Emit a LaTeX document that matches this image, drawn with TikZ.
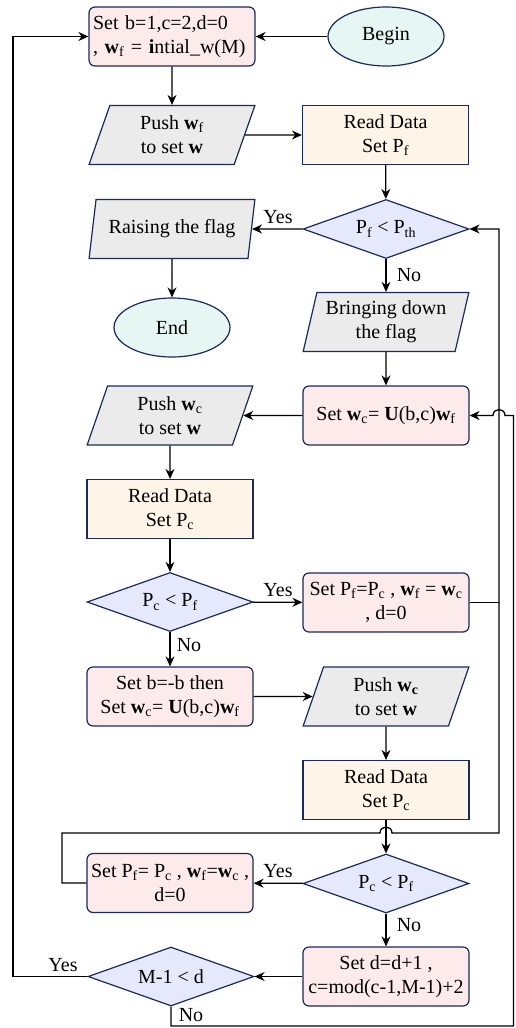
\documentclass[tikz,border=0pt]{standalone}
\usepackage{fontspec}
\setmainfont{Liberation Serif}
\usetikzlibrary{shapes.geometric,arrows.meta}
\definecolor{bord}{HTML}{1B2A5A}
\definecolor{pinkf}{HTML}{FDEBEB}
\definecolor{orangef}{HTML}{FEF4E8}
\definecolor{grayf}{HTML}{EBEBEB}
\definecolor{lavf}{HTML}{E5E9FB}
\definecolor{cyanf}{HTML}{E6F6F3}
\newcommand{\bw}[1]{\textbf{w}\textsubscript{#1}}
\begin{document}
\begin{tikzpicture}[x=1pt,y=-1pt,
 every node/.style={font=\fontsize{20}{24}\selectfont, line width=1.2pt, draw=bord, align=center, inner sep=2pt},
 procbox/.style={rectangle, rounded corners=6pt, fill=pinkf, minimum width=166pt, minimum height=59pt},
 databox/.style={rectangle, fill=orangef, minimum width=166pt, minimum height=59pt},
 iobox/.style={trapezium, trapezium left angle=75, trapezium right angle=105, trapezium stretches=true, fill=grayf, minimum width=166pt, minimum height=59pt},
 decbox/.style={diamond, aspect=2.8, fill=lavf, minimum width=166pt, minimum height=59pt, inner sep=0pt},
 termbox/.style={ellipse, fill=cyanf, minimum width=116pt, minimum height=59pt},
 lbl/.style={draw=none, fill=none, inner sep=0pt},
 conn/.style={line width=1.3pt, draw=black},
 arr/.style={conn, -{Stealth[length=10pt,width=9pt]}}
]
\useasboundingbox (0,0) rectangle (515,1028);

% nodes
\node[procbox, text width=158pt, align=left] (init) at (172,36.5) {Set b=1,c=2,d=0\\, \bw{f} = \textbf{i}ntial\_w(M)};
\node[termbox] (begin) at (386,36.5) {Begin};
\node[iobox] (pushf) at (172,135) {Push \bw{f}\\to set \textbf{w}};
\node[databox] (readf) at (385.5,135) {Read Data\\Set P\textsubscript{f}};
\node[decbox] (decth) at (386,229) {P\textsubscript{f} < P\textsubscript{th}};
\node[iobox] (raise) at (172,229) {Raising the flag};
\node[termbox] (theend) at (172,327.5) {End};
\node[iobox] (bring) at (386,322) {Bringing down\\the flag};
\node[procbox] (setwc) at (386,415.5) {Set \bw{c}= \textbf{U}(b,c)\bw{f}};
\node[iobox] (pushc) at (170,415.5) {Push \bw{c}\\to set \textbf{w}};
\node[databox] (readc) at (170,509) {Read Data\\Set P\textsubscript{c}};
\node[decbox] (deca) at (170,602) {P\textsubscript{c} < P\textsubscript{f}};
\node[procbox] (setpfa) at (386,602.5) {Set P\textsubscript{f}=P\textsubscript{c} , \bw{f} = \bw{c}\\, d=0};
\node[procbox] (setb) at (170,696.5) {Set b=-b then\\Set \bw{c}= \textbf{U}(b,c)\bw{f}};
\node[iobox] (pushc2) at (386,696.5) {Push \textbf{w}\textsubscript{\textbf{c}}\\to set \textbf{w}};
\node[databox] (readc2) at (386,790) {Read Data\\Set P\textsubscript{c}};
\node[decbox] (decb) at (386,883.5) {P\textsubscript{c} < P\textsubscript{f}};
\node[procbox] (setpfb) at (170,883) {Set P\textsubscript{f}= P\textsubscript{c} , \bw{f}=\bw{c} ,\\d=0};
\node[procbox] (setd) at (386,976.5) {Set d=d+1 ,\\c=mod(c-1,M-1)+2};
\node[decbox] (decm) at (171,976.5) {M-1 < d};

% labels
\node[lbl] (y1) at (278,217) {Yes};
\node[lbl] (n1) at (409,275) {No};
\node[lbl] (y2) at (278,590) {Yes};
\node[lbl] (n2) at (189,645) {No};
\node[lbl] (y3) at (278,871) {Yes};
\node[lbl] (n3) at (409,925) {No};
\node[lbl] (y4) at (63,965) {Yes};
\node[lbl] (n4) at (191,1015) {No};

% connectors
\draw[arr] (begin) -- (init);
\draw[arr] (init) -- (pushf);
\draw[arr] (pushf.east) -- (readf);
\draw[arr] (readf) -- (decth);
\draw[arr] (decth) -- (raise.east);
\draw[arr] (raise.south) -- (theend);
\draw[arr] (decth) -- (bring);
\draw[arr] (bring.south) -- (setwc);
\draw[arr] (setwc) -- (pushc.east);
\draw[arr] (pushc.south) -- (readc);
\draw[arr] (readc) -- (deca);
\draw[arr] (deca) -- (setpfa);
\draw[arr] (deca) -- (setb);
\draw[arr] (setb) -- (pushc2.west);
\draw[arr] (pushc2.south) -- (readc2);
\draw[arr] (readc2) -- (decb);
\draw[arr] (decb) -- (setpfb);
\draw[arr] (decb) -- (setd);
\draw[arr] (setd) -- (decm);

\coordinate (la) at (13,976.5);
\coordinate (lb) at (13,36.5);
\draw[arr] (decm.west) -- (la) -- (lb) -- (init.west);

\coordinate (ba) at (171,1026);
\coordinate (bb) at (513.5,1026);
\coordinate (bc) at (513.5,415.5);
\draw[arr] (decm.south) -- (ba) -- (bb) -- (bc) -- (505,415.5) .. controls (505,407.5) and (493,407.5) .. (493,415.5) -- (setwc.east);

\coordinate (ra) at (62,883);
\coordinate (rb) at (62,833);
\coordinate (rc) at (499,833);
\coordinate (rd) at (499,229);
\draw[arr] (setpfb.west) -- (ra) -- (rb) -- (380,833) .. controls (380,825) and (392,825) .. (392,833) -- (rc) -- (rd) -- (decth.east);

\coordinate (ja) at (499,602.5);
\draw[conn] (setpfa.east) -- (ja);
\end{tikzpicture}
\end{document}
